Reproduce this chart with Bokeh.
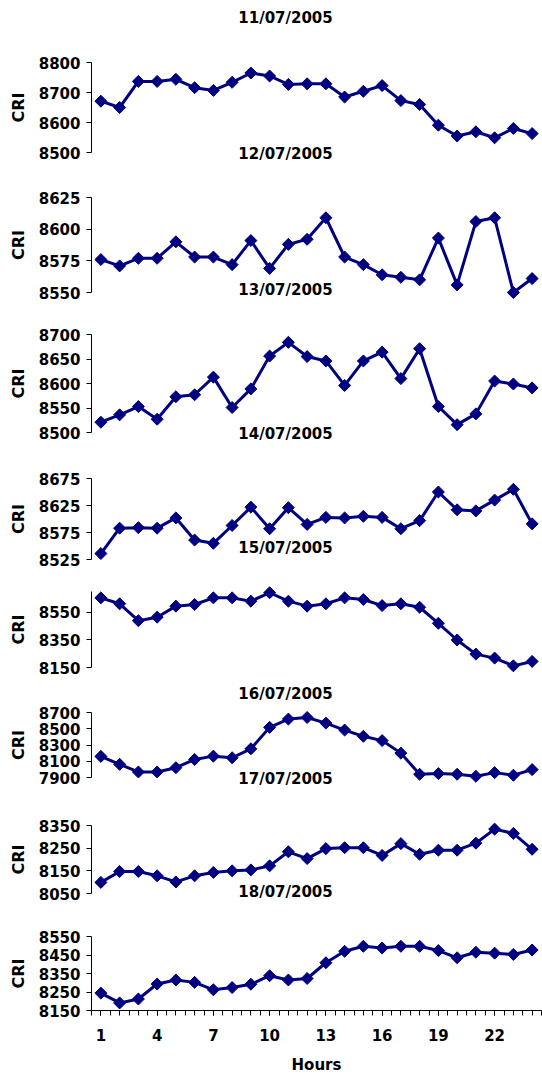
import numpy as np
from bokeh.plotting import figure
from bokeh.layouts import column
from bokeh.models import Range1d, FixedTicker, Label, Grid, Title
from bokeh.embed import file_html
from bokeh.resources import INLINE

# ---------------- data ----------------
hours = list(range(1, 25))
dates = ["11/07/2005", "12/07/2005", "13/07/2005", "14/07/2005",
         "15/07/2005", "16/07/2005", "17/07/2005", "18/07/2005"]

cri_11 = [8671, 8650, 8737, 8737, 8744, 8716, 8707, 8734, 8765, 8755, 8727, 8729,
          8729, 8685, 8704, 8723, 8673, 8660, 8591, 8555, 8569, 8549, 8580, 8563]
cri_12 = [8576, 8571, 8577, 8577, 8590, 8578, 8578, 8572, 8591, 8569, 8588, 8592,
          8609, 8578, 8572, 8564, 8562, 8560, 8593, 8556, 8606, 8609, 8550, 8561]
cri_13 = [8521, 8536, 8553, 8527, 8573, 8577, 8613, 8551, 8589, 8656, 8684, 8655,
          8646, 8596, 8646, 8664, 8610, 8671, 8553, 8516, 8538, 8605, 8599, 8591]
cri_14 = [8536, 8583, 8584, 8583, 8602, 8561, 8555, 8588, 8622, 8582, 8621, 8590,
          8603, 8602, 8605, 8603, 8582, 8597, 8650, 8617, 8615, 8635, 8655, 8591]
cri_15 = [8654, 8611, 8489, 8514, 8594, 8606, 8654, 8654, 8630, 8691, 8630, 8594,
          8611, 8654, 8642, 8598, 8611, 8586, 8470, 8349, 8247, 8218, 8162, 8194]
cri_16 = [8160, 8062, 7968, 7968, 8021, 8122, 8163, 8143, 8253, 8517, 8619, 8639,
          8570, 8484, 8407, 8354, 8200, 7940, 7948, 7940, 7915, 7960, 7928, 7997]
cri_17 = [8099, 8147, 8147, 8128, 8101, 8128, 8143, 8150, 8154, 8172, 8234, 8204,
          8248, 8252, 8252, 8218, 8270, 8223, 8241, 8241, 8272, 8334, 8315, 8245]
cri_18 = [8244, 8191, 8212, 8293, 8315, 8302, 8262, 8274, 8292, 8338, 8315, 8323,
          8408, 8470, 8497, 8488, 8497, 8497, 8474, 8435, 8465, 8460, 8453, 8477]

series = [cri_11, cri_12, cri_13, cri_14, cri_15, cri_16, cri_17, cri_18]

y_ticks_11 = [8500, 8600, 8700, 8800]
y_ticks_12 = [8550, 8575, 8600, 8625]
y_ticks_13 = [8500, 8550, 8600, 8650, 8700]
y_ticks_14 = [8525, 8575, 8625, 8675]
y_ticks_15 = [8150, 8350, 8550]
y_ticks_16 = [7900, 8100, 8300, 8500, 8700]
y_ticks_17 = [8050, 8150, 8250, 8350]
y_ticks_18 = [8150, 8250, 8350, 8450, 8550]
y_ticks = [y_ticks_11, y_ticks_12, y_ticks_13, y_ticks_14,
           y_ticks_15, y_ticks_16, y_ticks_17, y_ticks_18]

y_limits = [(8500, 8800), (8550, 8625), (8500, 8700), (8525, 8675),
            (8150, 8700), (7900, 8700), (8050, 8350), (8150, 8550)]

x_tick_labels = [1, 4, 7, 10, 13, 16, 19, 22]
x_label = "Hours"
y_label = "CRI"

# ---------------- layout / style (pixels on the page) ----------------
FONT = "DejaVu Sans"
NAVY = "#000080"
FRAME_W = 450
BORDER_L = 91
BORDER_R = 1
fig_edges = [0, 170, 310, 450, 575, 680, 800, 912, 1078]   # figure top/bottom
axis_px = [(62, 152), (197, 292), (334, 432), (478, 559),
           (591, 667), (712, 777), (825, 893), (936, 1010)]  # value axis top/bottom
title_px = [17, 153, 289, 433, 547, 693, 778, 891]           # title centre y
TITLE_X = 194
LAST_BOTTOM = 68
YLABEL_LEN = 30   # approx. length of the rotated "CRI" text in px

figs = []
n = len(series)
frames = []
for i in range(n):
    last = (i == n - 1)
    f_top = fig_edges[i]
    f_bot = fig_edges[i + 1] - (LAST_BOTTOM if last else 0)
    frames.append((f_top, f_bot))
    a_top, a_bot = axis_px[i]
    y0, y1 = y_limits[i]
    upp = (y1 - y0) / (a_bot - a_top)
    r_start = y0 - (f_bot - a_bot) * upp
    r_end = y1 + (a_top - f_top) * upp

    p = figure(frame_width=FRAME_W, frame_height=f_bot - f_top,
               min_border_left=BORDER_L, min_border_right=BORDER_R,
               min_border_top=0, min_border_bottom=LAST_BOTTOM if last else 0,
               x_range=Range1d(0.5, 24.5),
               y_range=Range1d(r_start, r_end),
               x_axis_location="below" if last else None,
               toolbar_location=None, output_backend="svg",
               background_fill_color="white", border_fill_color="white")
    p.outline_line_color = None
    for r in p.center:
        if isinstance(r, Grid):
            r.visible = False

    ax = p.yaxis[0]
    ax.bounds = (y0, y1)
    ax.ticker = FixedTicker(ticks=y_ticks[i], minor_ticks=[])
    ax.major_label_text_font = FONT
    ax.major_label_text_font_size = "15px"
    ax.major_label_text_font_style = "bold"
    ax.major_label_text_color = "black"
    ax.major_label_standoff = 6
    ax.major_tick_out = 5
    ax.major_tick_in = 0
    ax.minor_tick_out = 0
    ax.minor_tick_in = 0
    ax.axis_line_color = "black"
    ax.major_tick_line_color = "black"

    # "CRI" label, centred on the value-axis extent
    centre = (a_top + a_bot) / 2
    p.add_layout(Title(text=y_label, align="left", vertical_align="top",
                       offset=(f_bot - centre) - YLABEL_LEN / 2,
                       standoff=12, text_font=FONT, text_font_size="16px",
                       text_font_style="bold", text_color="black"), "left")

    if last:
        xa = p.xaxis[0]
        xa.ticker = FixedTicker(ticks=x_tick_labels,
                                minor_ticks=[h - 0.5 for h in hours] + [h for h in hours] + [24.5])
        xa.axis_label = x_label
        xa.axis_label_text_font = FONT
        xa.axis_label_text_font_size = "15px"
        xa.axis_label_text_font_style = "bold"
        xa.axis_label_text_color = "black"
        xa.axis_label_standoff = 12
        xa.major_label_text_font = FONT
        xa.major_label_text_font_size = "15px"
        xa.major_label_text_font_style = "bold"
        xa.major_label_text_color = "black"
        xa.major_label_standoff = 13
        xa.major_tick_out = 5
        xa.major_tick_in = 0
        xa.minor_tick_out = 5
        xa.minor_tick_in = 0
        xa.axis_line_color = "black"
        xa.major_tick_line_color = "black"
        xa.minor_tick_line_color = "black"

    p.line(hours, series[i], line_color=NAVY, line_width=3)
    p.scatter(hours, series[i], marker="square", angle=np.pi / 4, size=8.5,
              fill_color=NAVY, line_color=NAVY, line_width=1)
    figs.append(p)

# place each date title inside the figure whose frame contains it
for k, ty in enumerate(title_px):
    fi = max(j for j in range(n) if frames[j][0] <= ty - 8 and ty + 8 <= frames[j][1])
    figs[fi].add_layout(Label(x=TITLE_X, y=frames[fi][1] - ty,
                              x_units="screen", y_units="screen",
                              text=dates[k], text_font=FONT, text_font_size="15px",
                              text_font_style="bold", text_color="black",
                              text_align="center", text_baseline="middle"))

layout = column(*figs, spacing=0)
open("out.html", "w").write(file_html(layout, INLINE))
